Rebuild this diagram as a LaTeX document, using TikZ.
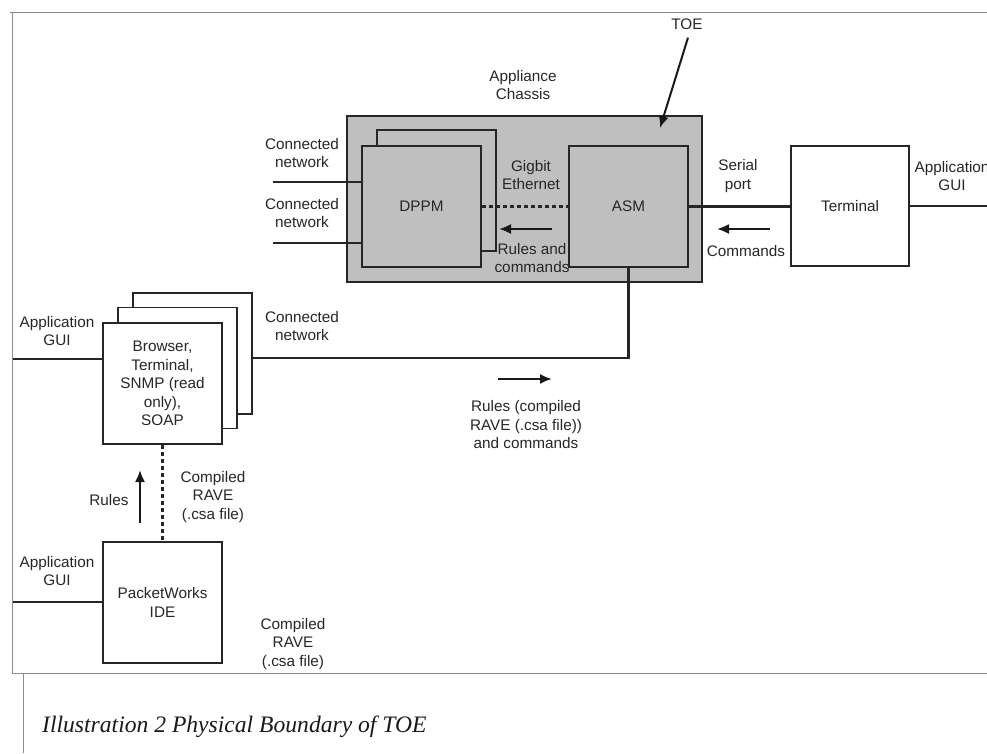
\documentclass[tikz,border=0pt]{standalone}
\usepackage{fontspec}
\setmainfont{Liberation Sans}
\newfontfamily\capfont{Liberation Serif}
\usetikzlibrary{arrows.meta}

\begin{document}
\begin{tikzpicture}[x=1pt,y=-1pt,
	box/.style={draw=black!85, line width=1.6pt, minimum width=119pt, minimum height=121pt, inner sep=0pt, align=center, text=black!85, font=\fontsize{15.3}{18.5}\selectfont},
	lbl/.style={align=center, inner sep=0pt, text=black!85, font=\fontsize{15.3}{18.5}\selectfont},
	wire/.style={line width=2.2pt, draw=black!85},
	arr/.style={line width=2pt, draw=black!90, -{Latex[length=12pt,width=10pt]}},
	frame/.style={draw=black!45, line width=0.9pt}]
		\useasboundingbox (0,0) rectangle (987,753);
		% page frame
		\draw[frame] (10,12) -- (987,12);
		\draw[frame] (12,12) -- (12,673) -- (987,673);
		\draw[frame] (23,673) -- (23,753);
		% appliance chassis
		\node[box, fill=gray!50, minimum width=355pt, minimum height=166pt] (chassis) at (524.5,199) {};
		\node[box, fill=gray!50] (dppmback) at (436.5,190.5) {};
		\node[box, fill=gray!50] (dppm) at (421.5,206.5) {DPPM};
		\node[box, fill=gray!50] (asm) at (628.5,206.5) {ASM};
		\node[box, fill=white, minimum width=118pt, minimum height=120pt] (term) at (850,206) {Terminal};
		% management stations
		\node[box, fill=white] (brC) at (192.5,353.5) {};
		\node[box, fill=white] (brB) at (177.5,368) {};
		\node[box, fill=white] (brA) at (162.5,383.5) {Browser,\\Terminal,\\SNMP (read\\only),\\SOAP};
		\node[box, fill=white] (pw) at (162.5,602.5) {PacketWorks\\IDE};
		% labels
		\node[lbl] (appch) at (523,85) {Appliance\\Chassis};
		\node[lbl] (toe) at (687,24) {TOE};
		\node[lbl] (cnA) at (302,153) {Connected\\network};
		\node[lbl] (cnB) at (302,213) {Connected\\network};
		\node[lbl] (gig) at (531,175) {Gigbit\\Ethernet};
		\node[lbl] (rc) at (532,258) {Rules and\\commands};
		\node[lbl] (serial) at (738,176) {Serial\\port};
		\node[lbl] (cmd) at (746,251) {Commands};
		\node[lbl] (appR) at (952,176) {Application\\GUI};
		\node[lbl] (cnM) at (302,326) {Connected\\network};
		\node[lbl] (rrc) at (526,425) {Rules (compiled\\RAVE (.csa file))\\and commands};
		\node[lbl] (appLa) at (57,331) {Application\\GUI};
		\node[lbl] (rules) at (109,500) {Rules};
		\node[lbl] (crA) at (213,497) {Compiled\\RAVE\\(.csa file)};
		\node[lbl] (appLb) at (57,571) {Application\\GUI};
		\node[lbl] (crB) at (293,644) {Compiled\\RAVE\\(.csa file)};
		\node[anchor=west, inner sep=0pt, text=black!90, font=\capfont\itshape\fontsize{23.6}{27}\selectfont] (caption) at (42,727) {Illustration 2 Physical Boundary of TOE};
		% free ends
		\coordinate (netA) at (273,182);
		\coordinate (netB) at (273,243);
		\coordinate (guiR) at (987,206);
		\coordinate (guiA) at (13,359);
		\coordinate (guiB) at (13,602);
		\coordinate (netM) at (252,358);
		% connections
		\draw[wire] (netA) -- (netA -| dppm.west);
		\draw[wire] (netB) -- (netB -| dppm.west);
		\draw[wire, dash pattern=on 4pt off 3pt] (dppm.east) -- (asm.west);
		\draw[wire] (asm.east) -- (asm.east -| term.west);
		\draw[wire] (term.east) -- (guiR);
		\draw[wire] (asm.south) |- (netM);
		\draw[wire] (guiA) -- (guiA -| brA.west);
		\draw[wire] (guiB) -- (guiB -| pw.west);
		\draw[wire, dash pattern=on 4pt off 3pt] (brA.south) -- (pw.north);
		% flow arrows
		\draw[arr] (552,229) -- (499,229);
		\draw[arr] (770,229) -- (717,229);
		\draw[arr] (498,379) -- (552,379);
		\draw[arr] (140,523) -- (140,470);
		\draw[arr] (toe.south) ++(1,8) -- (660,128);
\end{tikzpicture}
\end{document}
